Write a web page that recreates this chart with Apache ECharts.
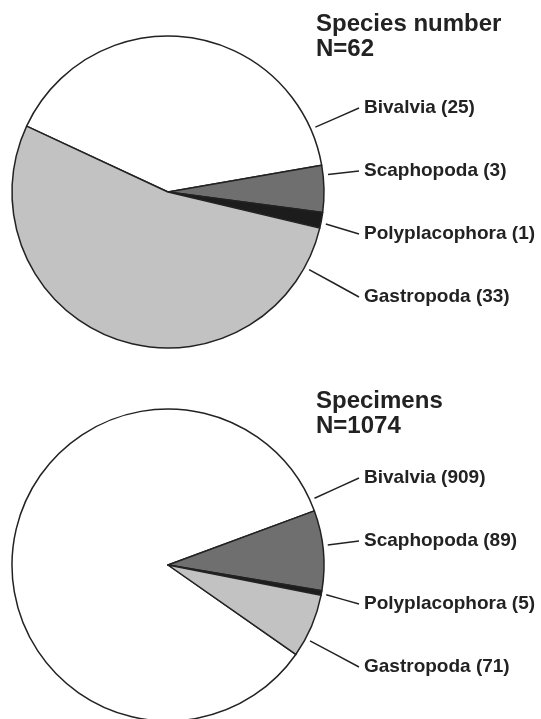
<!DOCTYPE html>
<html>
<head>
<meta charset="utf-8">
<script src="https://cdn.jsdelivr.net/npm/echarts@6/dist/echarts.min.js"></script>
<style>
  html, body { margin: 0; padding: 0; background: #ffffff; }
  #chart { width: 541px; height: 719px; }
</style>
</head>
<body>
<div id="chart"></div>
<script>
// ---- Data ----
const categories = ['Bivalvia', 'Scaphopoda', 'Polyplacophora', 'Gastropoda'];
const speciesValues = [25, 3, 1, 33];
const specimenValues = [909, 89, 5, 71];
const speciesTitle = 'Species number';
const speciesTotal = 'N=62';
const specimenTitle = 'Specimens';
const specimenTotal = 'N=1074';

// ---- Style ----
const sliceColors = ['#ffffff', '#6f6f6f', '#1c1c1c', '#c2c2c2'];
const ink = '#222222';
const fontFamily = "'Liberation Sans', Arial, Helvetica, sans-serif";
const pieRadius = 156;
const labelX = 359;
const labelStep = 63;

const chart = echarts.init(document.getElementById('chart'), null, { renderer: 'canvas' });

function makeData(values) {
  return categories.map((name, i) => ({
    name: name,
    value: values[i],
    itemStyle: { color: sliceColors[i] }
  }));
}

// angular range (degrees, counter-clockwise positive) of slice i, drawn clockwise from startAngle
function sliceRange(values, startAngle, i) {
  const total = values.reduce((s, v) => s + v, 0);
  let a = startAngle;
  for (let j = 0; j < i; j++) a -= values[j] / total * 360;
  return [a - values[i] / total * 360, a];
}

function pieSeries(values, center, startAngle, firstLabelY) {
  const cx = center[0], cy = center[1];
  return {
    type: 'pie',
    center: center,
    radius: pieRadius,
    startAngle: startAngle,
    clockwise: true,
    avoidLabelOverlap: false,
    silent: true,
    animation: false,
    itemStyle: { borderColor: ink, borderWidth: 1.5 },
    emphasis: { disabled: true },
    label: {
      show: true,
      position: 'outside',
      formatter: '{b} ({c})',
      color: ink,
      fontFamily: fontFamily,
      fontWeight: 'bold',
      fontSize: 19,
      padding: [0, 0, 0, 5]
    },
    labelLine: {
      show: true,
      length: 10,
      length2: 0,
      lineStyle: { color: ink, width: 1.5 }
    },
    labelLayout: function (params) {
      const i = params.dataIndex;
      const y = firstLabelY + i * labelStep;
      const range = sliceRange(values, startAngle, i);
      const lo = range[0], hi = range[1];
      let ang = Math.atan2(-(y - cy), labelX - cx) * 180 / Math.PI;
      if (ang > hi) ang -= 360;
      if (ang < lo && ang + 360 <= hi) ang += 360;
      const margin = Math.min(2, (hi - lo) / 3);
      ang = Math.max(lo + margin, Math.min(hi - margin, ang));
      const rr = pieRadius + 5;
      const rad = ang * Math.PI / 180;
      const start = [cx + rr * Math.cos(rad), cy - rr * Math.sin(rad)];
      const end = [labelX, y];
      const mid = [(start[0] + end[0]) / 2, (start[1] + end[1]) / 2];
      return {
        x: labelX,
        y: y,
        align: 'left',
        verticalAlign: 'middle',
        labelLinePoints: [start, mid, end]
      };
    },
    data: makeData(values)
  };
}

const titleStyle = {
  color: ink,
  fontFamily: fontFamily,
  fontWeight: 'bold',
  fontSize: 24,
  lineHeight: 25
};

chart.setOption({
  backgroundColor: '#ffffff',
  animation: false,
  title: [
    { text: speciesTitle + '\n' + speciesTotal, left: 316, top: 12, textStyle: titleStyle, padding: 0 },
    { text: specimenTitle + '\n' + specimenTotal, left: 316, top: 389, textStyle: titleStyle, padding: 0 }
  ],
  series: [
    pieSeries(speciesValues, [168, 192], 155, 108),
    pieSeries(specimenValues, [168, 565], 325, 478)
  ]
});
</script>
</body>
</html>
